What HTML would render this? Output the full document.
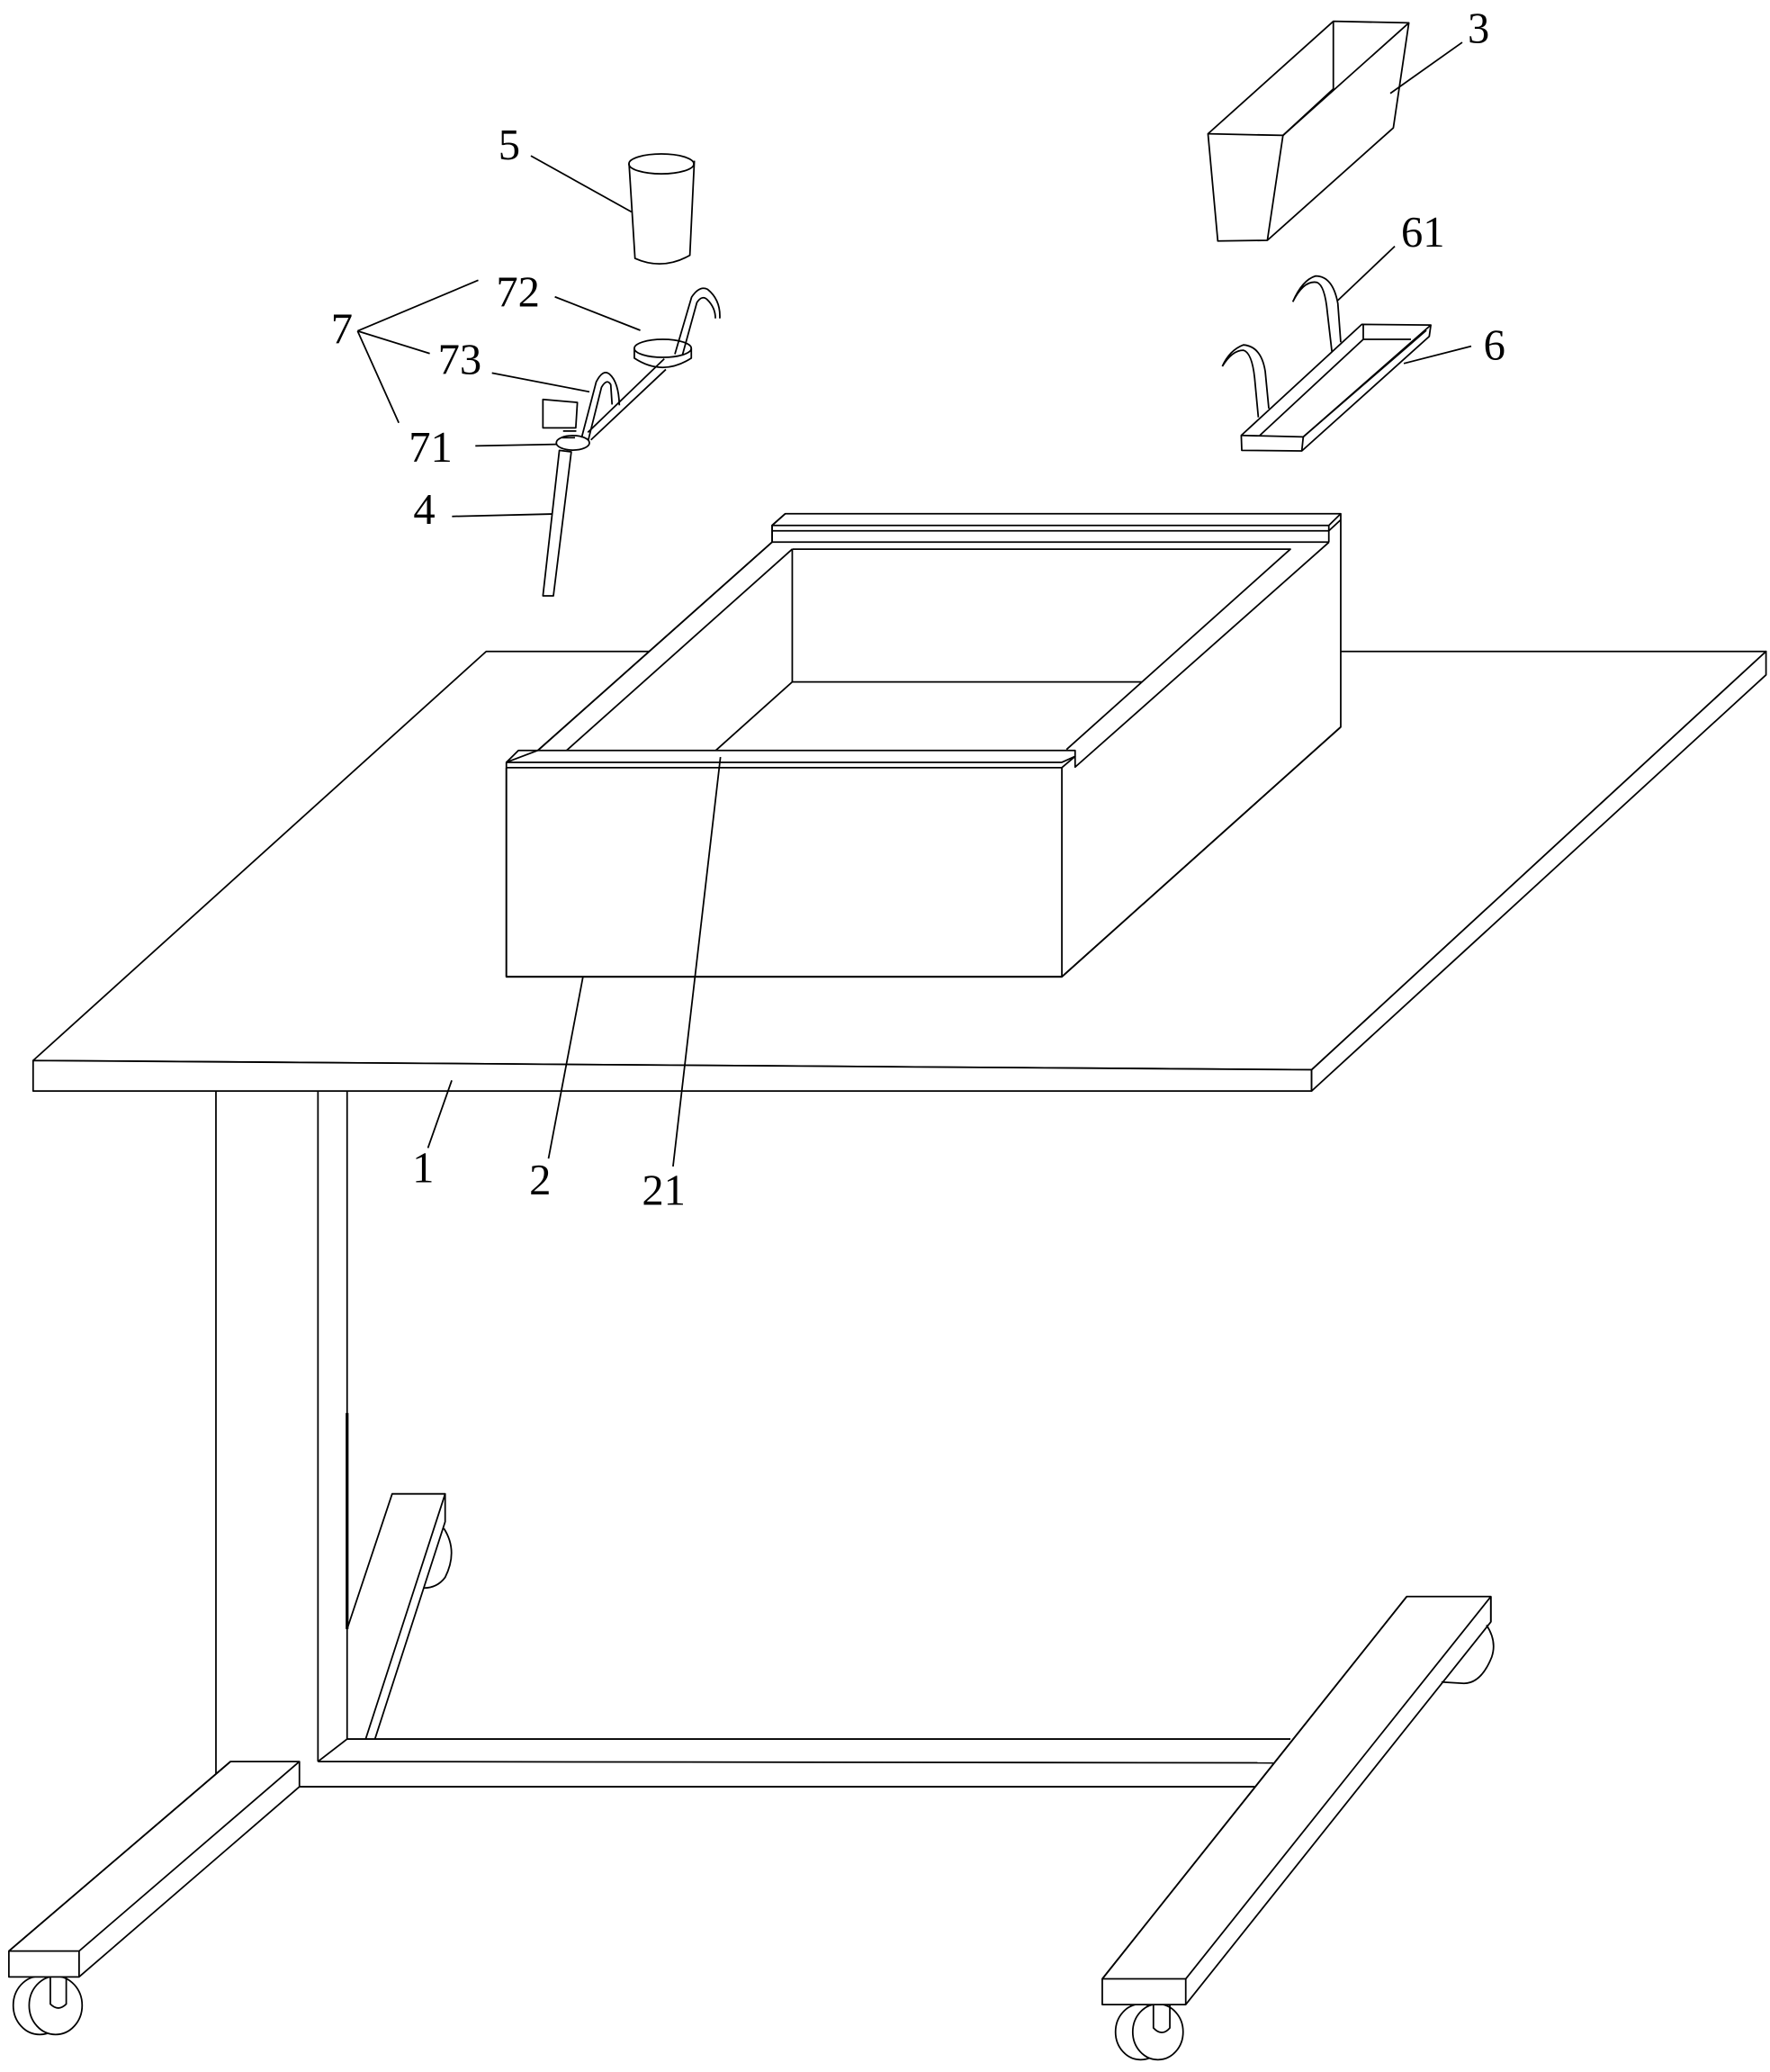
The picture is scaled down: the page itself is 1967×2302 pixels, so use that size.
<!DOCTYPE html>
<html><head><meta charset="utf-8"><style>html,body{margin:0;padding:0;background:#fff}svg{display:block}</style></head>
<body>
<svg width="1967" height="2302" viewBox="0 0 1336 1563" xmlns="http://www.w3.org/2000/svg" fill="none" stroke="#000" stroke-width="1.2" stroke-linejoin="round">
<!-- Table top -->
<polygon points="25,800 367,491.3 1333,491.3 990,807" fill="#fff"/>
<polygon points="25,800 990,807 990,823 25,823" fill="#fff"/>
<polygon points="990,807 1333,491.3 1333,509 990,823" fill="#fff"/>
<!-- Box 2 -->
<polygon points="382.2,575 406,566 582.8,408.8 582.8,396.2 592.7,387.4 1012,387.4 1012,548.3 801.5,736.8 382.2,736.8" fill="#fff"/>
<polyline points="382.2,579 382.2,736.8 801.5,736.8 801.5,579"/>
<line x1="801.5" y1="736.8" x2="1012" y2="548.3"/>
<polyline points="382.2,575 391.3,566 811.5,566 811.5,570.5 801.5,575 382.2,575"/>
<line x1="382.2" y1="579" x2="801.5" y2="579"/>
<polyline points="801.5,579 811.5,570.5 811.5,578.6 1003,409"/>
<line x1="406" y1="566" x2="582.8" y2="408.8"/>
<line x1="427.7" y1="566" x2="598" y2="414.1"/>
<polyline points="592.7,387.4 582.8,396.2 1003,396.2 1012,387.4"/>
<line x1="582.8" y1="400.3" x2="1003" y2="400.3"/>
<line x1="1003" y1="400.3" x2="1012" y2="392"/>
<line x1="582.8" y1="396.2" x2="582.8" y2="408.8"/>
<line x1="582.8" y1="408.8" x2="1003" y2="408.8"/>
<line x1="1003" y1="396.2" x2="1003" y2="409"/>
<polyline points="598,414.1 974,414.1 805,565.3"/>
<line x1="598" y1="414.1" x2="598" y2="514.3"/>
<line x1="598" y1="514.3" x2="861.9" y2="514.3"/>
<line x1="598" y1="514.3" x2="540.3" y2="566"/>
<!-- Legs -->
<line x1="163" y1="823" x2="163" y2="1338"/>
<line x1="240" y1="823" x2="240" y2="1329"/>
<line x1="262" y1="823" x2="262" y2="1312"/>
<line x1="262" y1="1066" x2="262" y2="1229" stroke-width="2.2"/>
<line x1="262" y1="1312" x2="974" y2="1312"/>
<line x1="240" y1="1329" x2="961" y2="1330"/>
<line x1="226" y1="1348" x2="947" y2="1348"/>
<line x1="240" y1="1329" x2="262" y2="1312"/>
<!-- back strut -->
<polyline points="262,1229 296,1127 336,1127 276,1312"/>
<polyline points="336,1127 336,1148 283,1312"/>
<path d="M335,1153 Q346,1170 336,1190 Q330,1198 320,1198"/>
<!-- wheels -->
<ellipse cx="30" cy="1513" rx="20" ry="22" fill="#fff"/>
<ellipse cx="42" cy="1513" rx="20" ry="22" fill="#fff"/>
<path d="M38,1491.5 L38,1512 Q44,1518 50,1512 L50,1491.5"/>
<ellipse cx="861" cy="1533" rx="19" ry="21" fill="#fff"/>
<ellipse cx="874" cy="1533" rx="19" ry="21" fill="#fff"/>
<path d="M870.6,1512.4 L870.6,1530 Q877,1537 883,1530 L883,1512.4"/>
<!-- left foot -->
<polygon points="174,1329 226,1329 226,1348 59.7,1491.5 6.7,1491.5 6.7,1472" fill="#fff"/>
<line x1="174" y1="1329" x2="6.7" y2="1472"/>
<line x1="226" y1="1329" x2="59.7" y2="1472"/>
<line x1="6.7" y1="1472" x2="59.7" y2="1472"/>
<line x1="59.7" y1="1472" x2="59.7" y2="1491.5"/>
<!-- right foot -->
<polygon points="1061.8,1204.5 1125.3,1204.5 1125.3,1223.6 895,1512.4 832,1512.4 832,1493" fill="#fff"/>
<line x1="1061.8" y1="1204.5" x2="832" y2="1493"/>
<line x1="1125.3" y1="1204.5" x2="895" y2="1493"/>
<line x1="832" y1="1493" x2="895" y2="1493"/>
<line x1="895" y1="1493" x2="895" y2="1512.4"/>
<line x1="1125.3" y1="1204.5" x2="1125.3" y2="1223.6"/>
<path d="M1122,1226 Q1130,1238 1126,1250 Q1118,1270 1105,1270 L1088,1269"/>
<!-- Hopper 3 -->
<polygon points="911.8,100.7 1006.4,15.8 1063.4,17 1051.7,96.2 956.6,181.1 919.2,181.6" fill="#fff"/>
<polyline points="911.8,100.7 968.4,101.9 1063.4,17"/>
<polyline points="968.4,101.9 956.6,181.1"/>
<polyline points="1006.4,15.8 1006.4,66.8 968.4,101.9"/>
<!-- Cup 5 -->
<ellipse cx="499.2" cy="123.4" rx="24.5" ry="7.5" fill="#fff"/>
<path d="M474.8,123 L479.3,194.7 Q500,204 520.7,192.4 L524.1,121"/>
<!-- Tray 6 -->
<polygon points="936.9,328.3 1027.9,244.5 1080,245 1078.8,253.6 982.6,340 937.3,339.6" fill="#fff"/>
<line x1="936.9" y1="328.3" x2="983.7" y2="329.4"/>
<line x1="983.7" y1="329.4" x2="1080" y2="245"/>
<line x1="983.7" y1="329.4" x2="982.6" y2="340"/>
<polyline points="950.9,328.3 1029,255.8 1029,244.5"/>
<line x1="1029" y1="255.8" x2="1065" y2="255.8"/>
<line x1="1076.6" y1="249" x2="983.7" y2="329.4"/>
<path d="M1005.3,264.9 L1001.9,235.5 Q1000,215 994,212.8 Q984,211 975.8,227.5 M1012,258 L1009.8,228.7 Q1006,208 993,208 Q983,211 975.8,227.5"/>
<path d="M949.8,314.7 L947,285 Q945,266 938.5,264 Q930,264 922.6,276.2 M957.7,308 L955,280 Q952,261 938.5,260 Q928,264 922.6,276.2"/>
<!-- item 7 / 4 -->
<polygon points="422.2,339.6 431.2,340.7 417.7,449.4 409.8,449.4" fill="#fff"/>
<polygon points="409.8,301.1 435.8,303.4 434.6,322.6 409.8,322.6" fill="#fff"/>
<line x1="424" y1="330" x2="434" y2="330"/>
<line x1="425" y1="325" x2="435" y2="325"/>
<polyline points="443.7,326 501.4,270.5"/>
<polyline points="446,331.7 502.6,278.5"/>
<ellipse cx="432.4" cy="333.9" rx="12.5" ry="5.5"/>
<ellipse cx="500.3" cy="262.6" rx="21.5" ry="6.8" fill="#fff"/>
<path d="M478.8,262.6 L478.8,270 Q500,284 521.8,270 L521.8,262.6"/>
<path d="M439,330 L450,288 Q455,278 460,282 Q467,288 467.5,305.6 M444,332 L454,292 Q458,285 461,290 L462,305"/>
<path d="M509.4,267 L522,224 Q528,215 534,218 Q544,226 543.3,240 M515,268 L526,228 Q530,222 534,226 Q540,232 540,240"/>
<!-- leaders -->
<line x1="400.7" y1="117.3" x2="476.6" y2="159.6"/>
<line x1="1103.7" y1="31.7" x2="1049.4" y2="70.2"/>
<line x1="1052.8" y1="185.6" x2="1009.8" y2="226.4"/>
<line x1="1110.5" y1="261" x2="1059.6" y2="274"/>
<line x1="418.8" y1="223.7" x2="483.3" y2="249"/>
<line x1="269.9" y1="249.5" x2="361" y2="211.2"/>
<line x1="269.9" y1="249.5" x2="324.4" y2="266.5"/>
<line x1="269.9" y1="249.5" x2="301" y2="318.8"/>
<line x1="371.3" y1="281.2" x2="444.9" y2="295.4"/>
<line x1="358.8" y1="336.2" x2="420" y2="335"/>
<line x1="341.2" y1="389.4" x2="416.5" y2="387.6"/>
<line x1="341" y1="815" x2="323" y2="866"/>
<line x1="440" y1="737" x2="414" y2="874"/>
<line x1="543.8" y1="571" x2="508" y2="880"/>
<!-- labels -->
<g font-family="Liberation Serif, serif" font-size="33" fill="#000" stroke="none" text-anchor="middle">
<text x="384.4" y="120">5</text>
<text x="1116" y="32">3</text>
<text x="1074" y="186">61</text>
<text x="1128" y="271">6</text>
<text x="391" y="231">72</text>
<text x="258" y="259">7</text>
<text x="347" y="282">73</text>
<text x="325" y="348">71</text>
<text x="320.3" y="395">4</text>
<text x="319.4" y="892">1</text>
<text x="407.7" y="901">2</text>
<text x="501" y="909">21</text>
</g>
</svg>
</body></html>
